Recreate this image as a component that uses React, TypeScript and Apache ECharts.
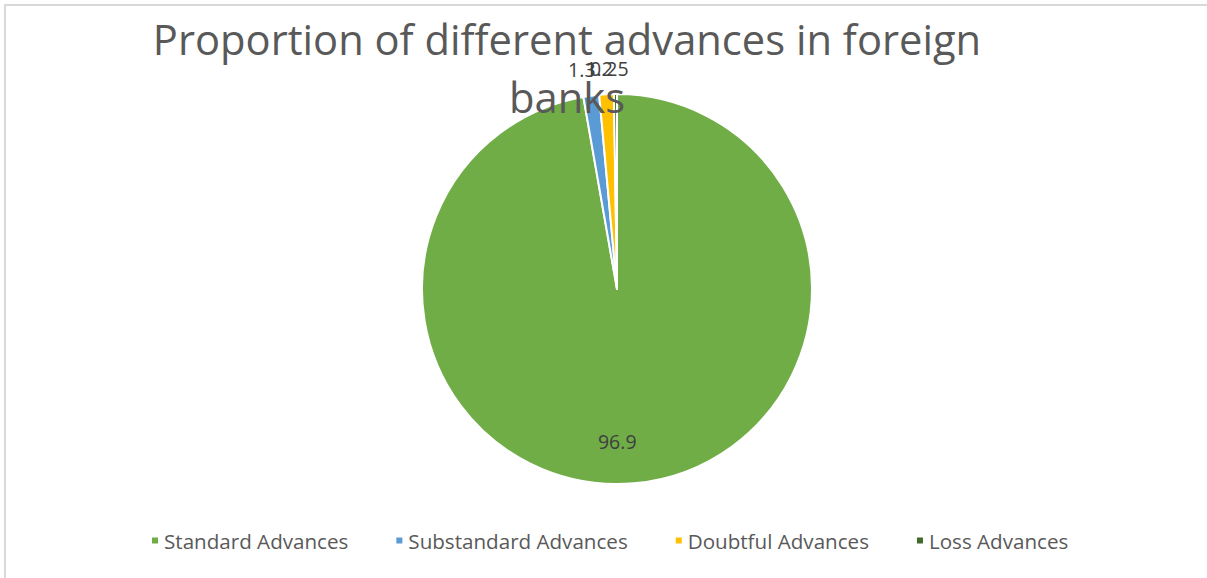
import React, { useEffect, useRef } from "react";
import * as echarts from "echarts";

const categories = ["Standard Advances", "Substandard Advances", "Doubtful Advances", "Loss Advances"];
const values = [96.9, 1.3, 1.2, 0.25];
const colors = ["#70AD47", "#5B9BD5", "#FFC000", "#43682B"];
const titleText = "Proportion of different advances in foreign\nbanks";

export default function App() {
  const ref = useRef<HTMLDivElement>(null);
  useEffect(() => {
    const chart = echarts.init(ref.current!, null, { renderer: "svg" });
    const data = categories.map((name, i) => ({ name, value: values[i], itemStyle: { color: colors[i] } }));
    const center = [617, 289];
    const labelText = {
      color: "#404040",
      fontSize: 19.5,
      fontFamily: "Open Sans",
    };
    chart.setOption({
      animation: false,
      backgroundColor: "#fff",
      title: {
        text: titleText,
        left: 562,
        top: 4,
        textAlign: "center",
        textStyle: {
          fontFamily: "Open Sans",
          fontSize: 41.7,
          fontWeight: "normal",
          color: "#595959",
          lineHeight: 58,
        },
      },
      legend: {
        data: categories,
        bottom: 22,
        left: 145,
        itemWidth: 8,
        itemHeight: 8,
        itemGap: 46,
        icon: "rect",
        textStyle: { fontFamily: "Open Sans", fontSize: 20.6, color: "#595959" },
      },
      graphic: [
        {
          type: "rect",
          shape: { x: 5, y: 5, width: 1400, height: 1000 },
          style: { fill: "none", stroke: "#d9d9d9", lineWidth: 2 },
          silent: true,
        },
      ],
      series: [
        {
          type: "pie",
          center,
          radius: [0, 195],
          startAngle: 90,
          clockwise: true,
          data,
          label: { show: false },
          labelLine: { show: false },
          itemStyle: { borderColor: "#fff", borderWidth: 2 },
          emphasis: { disabled: true },
        },
        {
          type: "pie",
          center,
          radius: [0, 300],
          startAngle: 90,
          clockwise: true,
          silent: true,
          avoidLabelOverlap: false,
          labelLayout: { hideOverlap: false },
          data: data.map((d, i) => ({
            name: d.name,
            value: d.value,
            itemStyle: { color: "rgba(0,0,0,0)" },
            label: { show: i === 0 },
          })),
          label: { show: true, position: "inside", formatter: "{c}", offset: [-13, 0], ...labelText },
          labelLine: { show: false },
          itemStyle: { borderWidth: 0 },
          emphasis: { disabled: true },
        },
        {
          type: "pie",
          center,
          radius: [0, 436],
          startAngle: 90,
          clockwise: true,
          silent: true,
          avoidLabelOverlap: false,
          labelLayout: { hideOverlap: false },
          minShowLabelAngle: 0,
          data: data.map((d, i) => ({
            name: d.name,
            value: d.value,
            itemStyle: { color: "rgba(0,0,0,0)" },
            label: { show: i !== 0 },
          })),
          label: { show: true, position: "inside", formatter: "{c}", offset: [-6, 0], ...labelText },
          labelLine: { show: false },
          itemStyle: { borderWidth: 0 },
          emphasis: { disabled: true },
        },
      ],
    });
    return () => chart.dispose();
  }, []);
  return (
    <div
      ref={ref}
      style={{ position: "fixed", left: 0, top: 0, width: 1207, height: 578 }}
    />
  );
}
